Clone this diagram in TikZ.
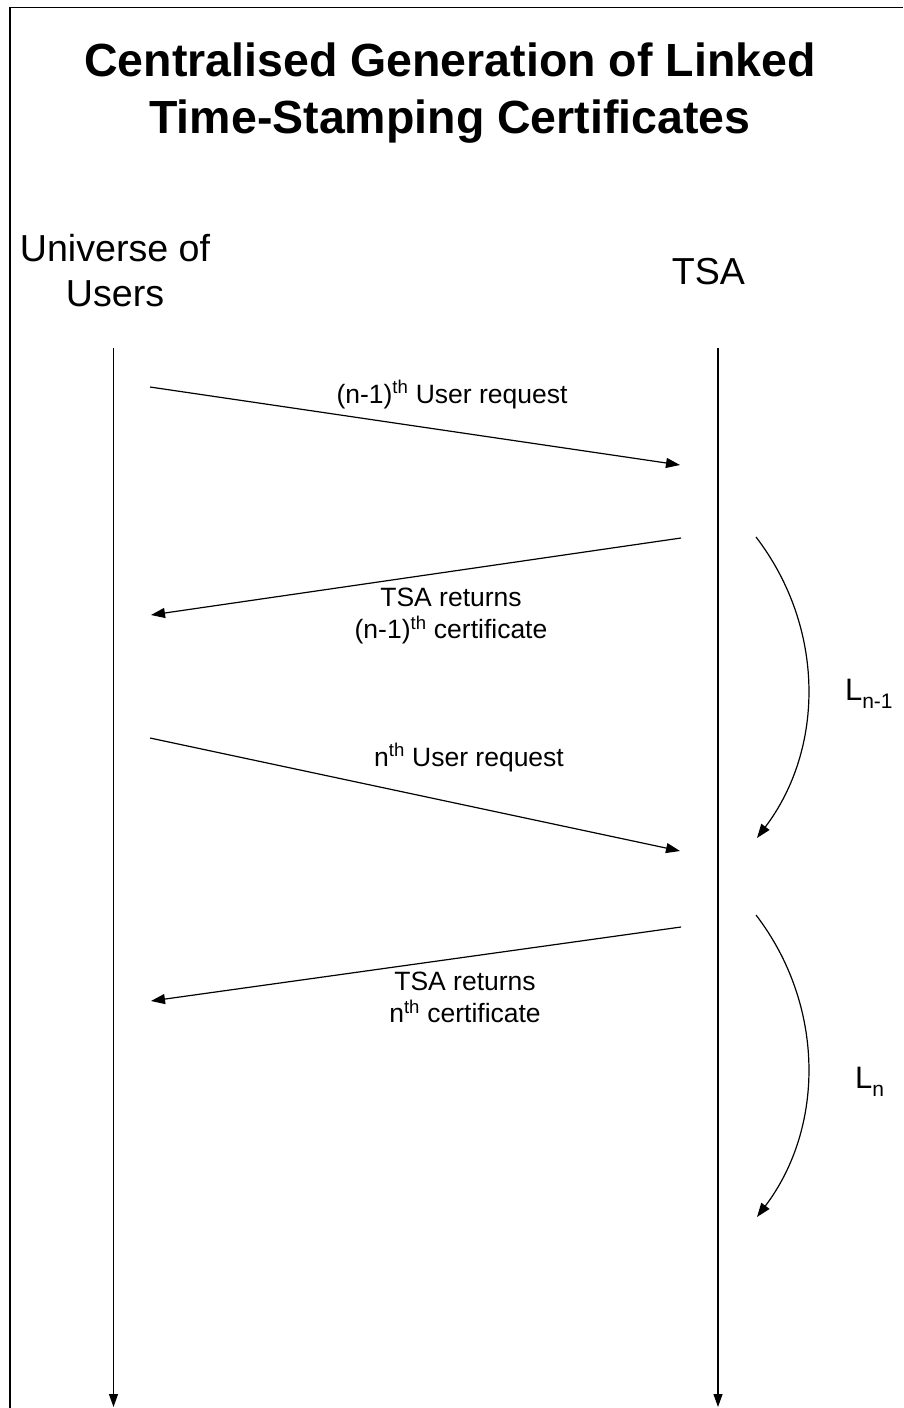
\documentclass[tikz,border=0pt]{standalone}
\usepackage{fontspec}
\setmainfont{Liberation Sans}
\usetikzlibrary{arrows.meta}
\newcommand{\lowsub}[1]{\raisebox{-8pt}{\fontsize{21}{21}\selectfont #1}}
\begin{document}
\begin{tikzpicture}[x=1pt,y=-1pt,
  every node/.style={inner sep=0pt, outer sep=0pt},
  conn/.style={line width=1.2pt, -{Triangle[length=14pt,width=10pt]}},
  life/.style={line width=1.2pt, -{Triangle[length=13pt,width=9pt]}},
  lbl/.style={font=\fontsize{26.5}{32}\selectfont, align=center},
  hdr/.style={font=\fontsize{37.6}{45}\selectfont, align=center},
  lnk/.style={font=\fontsize{31}{37}\selectfont},
]
\useasboundingbox (0,0) rectangle (903,1408);
\fill[white] (0,0) rectangle (903,1408);
\draw[line width=1.6pt] (10,1408) -- (10,7.5) -- (903,7.5);

% title
\node[anchor=north, font=\fontsize{46.5}{57}\selectfont\bfseries, align=center] (title) at (450,43)
  {Centralised Generation of Linked\\Time-Stamping Certificates};

% headers
\node[hdr, anchor=north] (users) at (115,234.6) {Universe of\\Users};
\node[hdr, anchor=base] (tsa) at (708.5,284) {TSA};

% lifelines
\coordinate (Ltop) at (113.5,348);
\coordinate (Lbot) at (113.5,1407);
\coordinate (Rtop) at (718,348);
\coordinate (Rbot) at (718,1407);
\draw[life] (Ltop) -- (Lbot);
\draw[life] (Rtop) -- (Rbot);

% messages
\coordinate (m1s) at (150,387);  \coordinate (m1e) at (680,465);
\coordinate (m2s) at (681,538);  \coordinate (m2e) at (151,615);
\coordinate (m3s) at (150,738);  \coordinate (m3e) at (680,851);
\coordinate (m4s) at (681,927);  \coordinate (m4e) at (151,1001);
\draw[conn] (m1s) -- (m1e);
\draw[conn] (m2s) -- (m2e);
\draw[conn] (m3s) -- (m3e);
\draw[conn] (m4s) -- (m4e);

\node[lbl, anchor=base] (l1) at (452,403) {(n-1)\textsuperscript{th} User request};
\node[lbl, anchor=north] (l2) at (451,588) {TSA returns\\(n-1)\textsuperscript{th} certificate};
\node[lbl, anchor=base] (l3) at (469,766) {n\textsuperscript{th} User request};
\node[lbl, anchor=north] (l4) at (465,972) {TSA returns\\n\textsuperscript{th} certificate};

% linking arcs
\coordinate (c1s) at (756,537);  \coordinate (c1e) at (757,838);
\coordinate (c2s) at (756,915);  \coordinate (c2e) at (757,1217);
\draw[conn] (c1s) .. controls (825,627) and (825,748) .. (c1e);
\draw[conn] (c2s) .. controls (825,1005) and (825,1127) .. (c2e);

\node[lnk, anchor=base west] (Ln1) at (845,700) {L\lowsub{n-1}};
\node[lnk, anchor=base west] (Ln) at (855,1088) {L\lowsub{n}};
\end{tikzpicture}
\end{document}
